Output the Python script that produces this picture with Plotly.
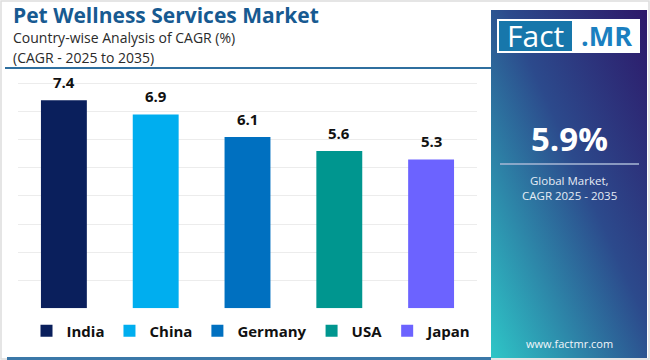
import base64
import plotly.graph_objects as go

# ---- data ----
countries = ["India", "China", "Germany", "USA", "Japan"]
cagr = [7.4, 6.9, 6.1, 5.6, 5.3]
bar_colors = ["#0a1f5c", "#00aeef", "#0070c0", "#00968f", "#6c63ff"]
title_text = "Pet Wellness Services Market"
subtitle_1 = "Country-wise Analysis of CAGR (%)"
subtitle_2 = "(CAGR - 2025 to 2035)"
global_cagr = "5.9%"
global_label = ["Global Market,", "CAGR 2025 - 2035"]
website = "www.factmr.com"

W, H = 650, 360


def px(x):
    return x / W


def py(y):
    return 1 - y / H


fig = go.Figure()
for c, v, col in zip(countries, cagr, bar_colors):
    fig.add_trace(go.Bar(
        x=[c], y=[v], name=c, marker=dict(color=col, line=dict(width=0)),
        width=0.5, showlegend=True, cliponaxis=False, hoverinfo="skip",
    ))

annotations = []
for c, v in zip(countries, cagr):
    annotations.append(dict(
        x=c, y=v, xref="x", yref="y", text=f"<b>{v:.1f}</b>", showarrow=False,
        yanchor="bottom", yshift=6, font=dict(family="Open Sans", size=15, color="#111111"),
    ))

# titles
annotations += [
    dict(x=px(11), y=py(15), xref="paper", yref="paper", xanchor="left", yanchor="middle",
         text=f"<b>{title_text}</b>", showarrow=False,
         font=dict(family="Open Sans", size=21, color="#175a91")),
    dict(x=px(11), y=py(38), xref="paper", yref="paper", xanchor="left", yanchor="middle",
         text=subtitle_1, showarrow=False,
         font=dict(family="Open Sans", size=14, color="#2a2a2a")),
    dict(x=px(11), y=py(57.5), xref="paper", yref="paper", xanchor="left", yanchor="middle",
         text=subtitle_2, showarrow=False,
         font=dict(family="Open Sans", size=14, color="#2a2a2a")),
]

# right panel texts
annotations += [
    dict(x=px(535), y=py(36), xref="paper", yref="paper", xanchor="center", yanchor="middle",
         text="Fact", showarrow=False, font=dict(family="Open Sans", size=30, color="#ffffff")),
    dict(x=px(606), y=py(36), xref="paper", yref="paper", xanchor="center", yanchor="middle",
         text="<b>.MR</b>", showarrow=False, font=dict(family="Open Sans", size=27, color="#1b7fc0")),
    dict(x=px(569), y=py(138), xref="paper", yref="paper", xanchor="center", yanchor="middle",
         text=f"<b>{global_cagr}</b>", showarrow=False,
         font=dict(family="Open Sans", size=33, color="#ffffff")),
    dict(x=px(569), y=py(180), xref="paper", yref="paper", xanchor="center", yanchor="middle",
         text=global_label[0], showarrow=False,
         font=dict(family="Open Sans", size=11.5, color="#e6ecf5")),
    dict(x=px(569), y=py(195), xref="paper", yref="paper", xanchor="center", yanchor="middle",
         text=global_label[1], showarrow=False,
         font=dict(family="Open Sans", size=11.5, color="#e6ecf5")),
    dict(x=px(569), y=py(343), xref="paper", yref="paper", xanchor="center", yanchor="middle",
         text=website, showarrow=False,
         font=dict(family="Open Sans", size=11, color="#f2f6fb")),
]

# gradient panel via svg image (no intrinsic size, stretched to the box)
svg = (
    '<svg xmlns="http://www.w3.org/2000/svg" viewBox="0 0 100 100" preserveAspectRatio="none">'
    '<defs><linearGradient id="g" x1="1" y1="0" x2="0" y2="1">'
    '<stop offset="0" stop-color="#2d1869"/>'
    '<stop offset="0.45" stop-color="#2c4a8c"/>'
    '<stop offset="1" stop-color="#2ec6c7"/>'
    '</linearGradient></defs>'
    '<rect x="0" y="0" width="100" height="100" fill="url(#g)"/></svg>'
)
src = "data:image/svg+xml;base64," + base64.b64encode(svg.encode()).decode()

shapes = [
    # outer light border
    dict(type="rect", xref="paper", yref="paper", x0=px(1), x1=px(649), y0=py(359), y1=py(1),
         line=dict(color="#dddddd", width=1.5), fillcolor="rgba(0,0,0,0)", layer="below"),
    # line under subtitle
    dict(type="line", xref="paper", yref="paper", x0=px(5), x1=px(491), y0=py(68), y1=py(68),
         line=dict(color="#2f6f9f", width=2)),
    # bottom line
    dict(type="line", xref="paper", yref="paper", x0=px(7), x1=px(491), y0=py(358.5), y1=py(358.5),
         line=dict(color="#3b78a8", width=3)),
    # logo box
    dict(type="rect", xref="paper", yref="paper", x0=px(497), x1=px(640), y0=py(53), y1=py(19),
         fillcolor="#ffffff", line=dict(width=0)),
    dict(type="rect", xref="paper", yref="paper", x0=px(499), x1=px(572), y0=py(51), y1=py(21),
         fillcolor="#1777ab", line=dict(width=0)),
    # separator line in panel
    dict(type="line", xref="paper", yref="paper", x0=px(500), x1=px(639), y0=py(164), y1=py(164),
         line=dict(color="#a9b9d6", width=1.5)),
]

fig.update_layout(
    width=W, height=H,
    margin=dict(l=0, r=0, t=0, b=0),
    paper_bgcolor="#ffffff", plot_bgcolor="#ffffff",
    font=dict(family="Open Sans"),
    xaxis=dict(domain=[px(18), px(477)], showticklabels=False, showgrid=False,
               zeroline=False, showline=False, ticks="", categoryorder="array",
               categoryarray=countries, fixedrange=True),
    yaxis=dict(domain=[py(308.3), py(80.7)], range=[0, 8.1], dtick=1, showgrid=True,
               gridcolor="#ececec", gridwidth=1, showticklabels=False, zeroline=False,
               showline=False, ticks="", fixedrange=True),
    bargap=0.5,
    showlegend=True,
    legend=dict(orientation="h", x=px(252), xanchor="center", y=py(331), yanchor="middle",
                font=dict(family="Open Sans", size=15, color="#111111", weight="bold"),
                itemwidth=30, traceorder="normal", bgcolor="rgba(0,0,0,0)"),
    annotations=annotations,
    shapes=shapes,
    images=[dict(source=src, xref="paper", yref="paper", x=px(491), y=py(10),
                 sizex=px(647) - px(491), sizey=py(10) - py(358), xanchor="left", yanchor="top",
                 sizing="stretch", layer="above")],
)

fig.write_html(
    "out.html",
    config={"displayModeBar": False},
    post_script="document.body.style.margin='0';document.body.style.overflow='hidden';",
)
